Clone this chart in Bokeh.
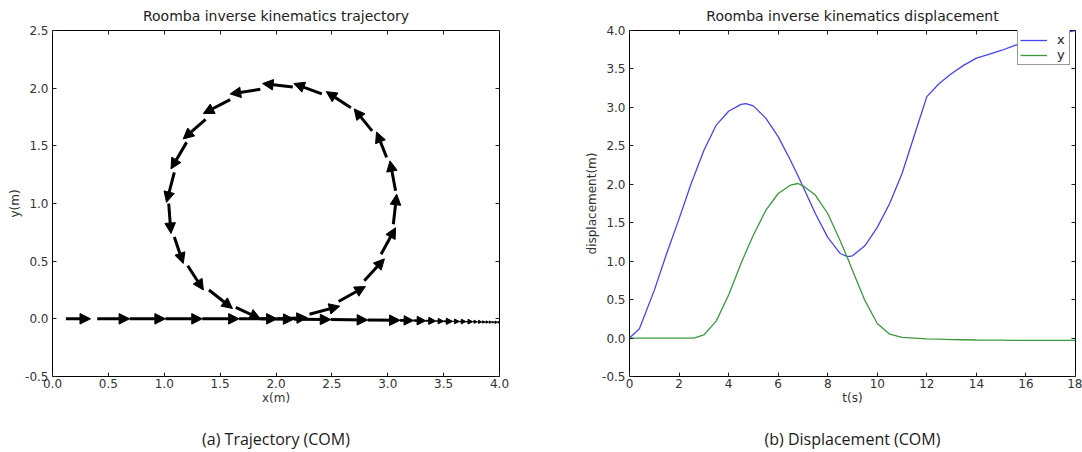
import numpy as np
from bokeh.plotting import figure
from bokeh.layouts import row
from bokeh.models import (Range1d, LinearAxis, FixedTicker, Arrow, NormalHead,
                          ColumnDataSource, Legend, LegendItem, PrintfTickFormatter)
from bokeh.embed import file_html
from bokeh.resources import INLINE

# ---------------- data: displacement vs time ----------------
t_s = [0.0, 0.4, 1.0, 1.5, 2.0, 2.5, 2.6, 3.0, 3.5, 4.0, 4.5, 4.7, 5.0, 5.5, 6.0, 6.5,
       6.8, 7.0, 7.5, 8.0, 8.5, 8.8, 9.0, 9.5, 10.0, 10.5, 11.0, 11.5, 12.0, 12.5,
       13.0, 13.5, 14.0, 14.5, 15.0, 15.5, 16.0, 16.5, 17.0, 17.5, 18.0]
disp_x = [0.0, 0.12, 0.62, 1.10, 1.55, 2.02, 2.10, 2.44, 2.77, 2.95, 3.04, 3.05, 3.02,
          2.86, 2.62, 2.31, 2.11, 1.97, 1.62, 1.31, 1.10, 1.06, 1.07, 1.20, 1.44, 1.75,
          2.14, 2.64, 3.14, 3.31, 3.44, 3.55, 3.64, 3.69, 3.74, 3.80, 3.85, 3.91, 3.94,
          3.97, 4.0]
disp_y = [0.0, 0.0, 0.0, 0.0, 0.0, 0.0, 0.0, 0.04, 0.22, 0.56, 0.97, 1.12, 1.34, 1.66,
          1.88, 1.99, 2.01, 1.98, 1.86, 1.62, 1.27, 1.04, 0.88, 0.49, 0.19, 0.05, 0.01,
          0.0, -0.01, -0.015, -0.02, -0.022, -0.025, -0.027, -0.028, -0.029, -0.03,
          -0.03, -0.03, -0.03, -0.03]

# ---------------- data: trajectory quiver (tail -> head) ----------------
q_x0 = [0.12, 0.40, 0.69, 1.01, 1.34, 1.67, 2.01,
        2.30, 2.56, 2.79, 2.94, 3.05, 3.07, 2.99, 2.86, 2.67, 2.41, 2.15, 1.86, 1.59,
        1.37, 1.20, 1.09, 1.04, 1.09, 1.21, 1.40, 1.64,
        1.86, 2.16, 2.49, 2.82, 3.11, 3.23, 3.34, 3.43, 3.50, 3.58, 3.64, 3.70, 3.76,
        3.80, 3.84, 3.87, 3.90, 3.93, 3.95, 3.98]
q_y0 = [0.0, 0.0, 0.0, 0.0, 0.0, 0.0, 0.0,
        0.04, 0.15, 0.33, 0.56, 0.82, 1.11, 1.40, 1.63, 1.83, 1.95, 2.01, 1.99, 1.90,
        1.73, 1.53, 1.27, 1.00, 0.71, 0.46, 0.25, 0.10,
        0.0, -0.003, -0.006, -0.01, -0.013, -0.015, -0.017, -0.019, -0.021, -0.022,
        -0.023, -0.024, -0.025, -0.026, -0.027, -0.028, -0.028, -0.029, -0.029, -0.03]
q_x1 = [0.34, 0.69, 1.01, 1.34, 1.67, 2.01, 2.28,
        2.57, 2.80, 2.97, 3.07, 3.08, 3.02, 2.90, 2.70, 2.45, 2.16, 1.88, 1.59, 1.35,
        1.17, 1.06, 1.02, 1.06, 1.17, 1.35, 1.61, 1.86,
        2.16, 2.49, 2.82, 3.11, 3.23, 3.34, 3.43, 3.50, 3.58, 3.64, 3.70, 3.76, 3.80,
        3.84, 3.87, 3.90, 3.93, 3.95, 3.98, 4.0]
q_y1 = [0.0, 0.0, 0.0, 0.0, 0.0, 0.0, 0.01,
        0.11, 0.28, 0.52, 0.79, 1.08, 1.37, 1.62, 1.82, 1.97, 2.04, 2.04, 1.95, 1.78,
        1.56, 1.30, 1.01, 0.74, 0.48, 0.25, 0.09, 0.0,
        -0.003, -0.006, -0.01, -0.013, -0.015, -0.017, -0.019, -0.021, -0.022, -0.023,
        -0.024, -0.025, -0.026, -0.027, -0.028, -0.028, -0.029, -0.029, -0.03, -0.03]

x_ticks_a = [0.0, 0.5, 1.0, 1.5, 2.0, 2.5, 3.0, 3.5, 4.0]
y_ticks_a = [-0.5, 0.0, 0.5, 1.0, 1.5, 2.0, 2.5]
x_ticks_b = [0, 2, 4, 6, 8, 10, 12, 14, 16, 18]
y_ticks_b = [-0.5, 0.0, 0.5, 1.0, 1.5, 2.0, 2.5, 3.0, 3.5, 4.0]

FONT = "DejaVu Sans"
CAP_FONT = "Open Sans"
H = 452


def tick_only_axis(ticks):
    return LinearAxis(ticker=FixedTicker(ticks=ticks), major_label_text_font_size="1px",
                      major_label_text_color=None, major_label_standoff=0,
                      major_tick_in=4, major_tick_out=0, minor_tick_line_color=None,
                      axis_line_color=None, major_tick_line_color="#222222")


def style(p, xt, yt, xfmt, yfmt, xlabel, ylabel, title, caption):
    p.title.text = title
    p.title.text_font = FONT
    p.title.text_font_size = "14px"
    p.title.text_font_style = "normal"
    p.title.text_color = "#222222"
    p.title.align = "center"
    p.title.vertical_align = "top"
    p.title.standoff = 9
    p.outline_line_color = "black"
    p.outline_line_width = 1
    p.outline_line_alpha = 1
    p.xgrid.visible = False
    p.ygrid.visible = False
    bx = p.below[0]
    by = p.left[0]
    bx.ticker = FixedTicker(ticks=xt)
    by.ticker = FixedTicker(ticks=yt)
    bx.formatter = PrintfTickFormatter(format=xfmt)
    by.formatter = PrintfTickFormatter(format=yfmt)
    bx.axis_label = xlabel
    by.axis_label = ylabel
    for ax in (bx, by):
        ax.major_tick_in = 4
        ax.major_tick_out = 0
        ax.minor_tick_line_color = None
        ax.axis_line_color = None
        ax.major_tick_line_color = "#222222"
        ax.major_label_text_font = FONT
        ax.major_label_text_font_size = "12px"
        ax.major_label_text_color = "#333333"
        ax.major_label_standoff = 4
        ax.axis_label_text_font = FONT
        ax.axis_label_text_font_size = "12px"
        ax.axis_label_text_font_style = "normal"
        ax.axis_label_text_color = "#333333"
        ax.axis_label_standoff = 0
    bx.major_label_standoff = 2
    p.add_layout(tick_only_axis(xt), "above")
    p.add_layout(tick_only_axis(yt), "right")
    # caption below the plot: an empty axis carrying only a label
    cap = LinearAxis(ticker=FixedTicker(ticks=[]), axis_label=caption,
                     axis_label_text_font=CAP_FONT, axis_label_text_font_size="16px",
                     axis_label_text_font_style="normal", axis_label_text_color="#1a1a1a",
                     axis_label_standoff=20, major_label_standoff=0,
                     major_tick_in=0, major_tick_out=0, axis_line_color=None,
                     minor_tick_line_color=None, major_tick_line_color=None,
                     major_label_text_font_size="1px", major_label_text_color=None)
    p.add_layout(cap, "below")


# ---------------- left: trajectory ----------------
p1 = figure(width=541, height=H, output_backend="svg", toolbar_location=None,
            x_range=Range1d(0, 4), y_range=Range1d(-0.5, 2.5),
            min_border_left=52, min_border_right=42, min_border_top=30,
            min_border_bottom=76)
style(p1, x_ticks_a, y_ticks_a, "%.1f", "%.1f", "x(m)", "y(m)",
      "Roomba inverse kinematics trajectory", "(a) Trajectory (COM)")

# arrow lengths in screen px (frame 447 x 346) to shrink short arrows like quiver
qx0 = np.array(q_x0); qy0 = np.array(q_y0); qx1 = np.array(q_x1); qy1 = np.array(q_y1)
lpx = np.hypot((qx1 - qx0) * 447 / 4.0, (qy1 - qy0) * 346 / 3.0)
shrink = np.clip(lpx / 15.0, 0.15, 1.0)
qsrc = ColumnDataSource(dict(x0=q_x0, y0=q_y0, x1=q_x1, y1=q_y1,
                             lw=(3.0 * shrink).tolist(), hs=(10.5 * shrink).tolist()))
p1.add_layout(Arrow(end=NormalHead(size="hs", fill_color="black", line_color="black",
                                   line_width=1),
                    x_start="x0", y_start="y0", x_end="x1", y_end="y1",
                    line_width="lw", line_color="black", source=qsrc))

# ---------------- right: displacement ----------------
p2 = figure(width=541, height=H, output_backend="svg", toolbar_location=None,
            x_range=Range1d(0, 18), y_range=Range1d(-0.5, 4.0),
            min_border_left=88, min_border_right=7, min_border_top=30,
            min_border_bottom=76)
style(p2, x_ticks_b, y_ticks_b, "%d", "%.1f", "t(s)", "displacement(m)",
      "Roomba inverse kinematics displacement", "(b) Displacement (COM)")
src2 = ColumnDataSource(dict(t=t_s, x=disp_x, y=disp_y))
lx = p2.line("t", "x", source=src2, line_color="#4545ee", line_width=1.3)
ly = p2.line("t", "y", source=src2, line_color="#3c9a3c", line_width=1.3)
leg = Legend(items=[LegendItem(label="x", renderers=[lx]), LegendItem(label="y", renderers=[ly])],
             location=(388, 311), orientation="vertical", padding=2, spacing=0, margin=0,
             glyph_width=27, glyph_height=12, label_height=12, label_standoff=10,
             label_width=10,
             label_text_font=FONT, label_text_font_size="13px", label_text_color="#222222",
             border_line_color="#333333", border_line_width=1, background_fill_alpha=1)
p2.add_layout(leg, "center")

layout = row(p1, p2)
open("out.html", "w").write(file_html(layout, INLINE))
